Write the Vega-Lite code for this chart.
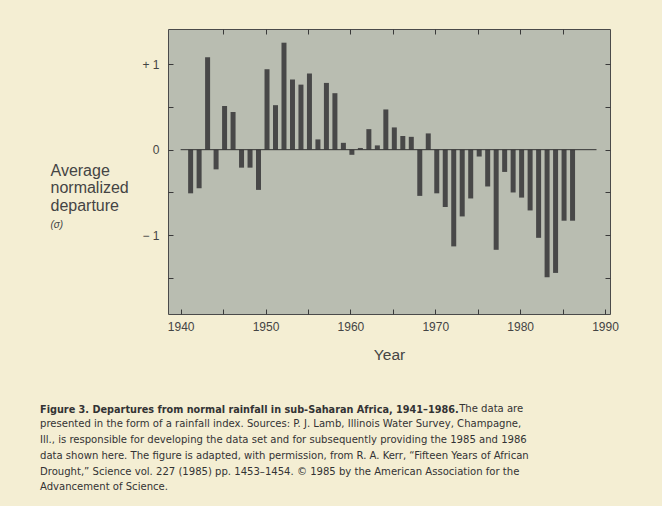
{
  "$schema": "https://vega.github.io/schema/vega-lite/v6.json",
  "width": 442,
  "height": 285,
  "padding": {"left": 40, "top": 28, "right": 44, "bottom": 14},
  "background": "#f4eed3",
  "config": {
    "view": {"fill": "#b9bdb1", "stroke": "#4a4a4a", "strokeWidth": 1},
    "axis": {
      "domain": false,
      "grid": false,
      "tickColor": "#3a3a3a",
      "tickSize": -5,
      "tickWidth": 1,
      "labelFont": "Liberation Sans",
      "labelFontSize": 12,
      "labelColor": "#444444",
      "titleFont": "Liberation Sans",
      "titleColor": "#444444",
      "titleFontWeight": "normal"
    }
  },
  "data": {
    "values": [
      {"year": 1941, "departure": -0.51},
      {"year": 1942, "departure": -0.45},
      {"year": 1943, "departure": 1.08},
      {"year": 1944, "departure": -0.23},
      {"year": 1945, "departure": 0.51},
      {"year": 1946, "departure": 0.44},
      {"year": 1947, "departure": -0.21},
      {"year": 1948, "departure": -0.21},
      {"year": 1949, "departure": -0.47},
      {"year": 1950, "departure": 0.94},
      {"year": 1951, "departure": 0.52},
      {"year": 1952, "departure": 1.25},
      {"year": 1953, "departure": 0.82},
      {"year": 1954, "departure": 0.76},
      {"year": 1955, "departure": 0.89},
      {"year": 1956, "departure": 0.12},
      {"year": 1957, "departure": 0.78},
      {"year": 1958, "departure": 0.66},
      {"year": 1959, "departure": 0.08},
      {"year": 1960, "departure": -0.06},
      {"year": 1961, "departure": 0.02},
      {"year": 1962, "departure": 0.24},
      {"year": 1963, "departure": 0.05},
      {"year": 1964, "departure": 0.47},
      {"year": 1965, "departure": 0.26},
      {"year": 1966, "departure": 0.16},
      {"year": 1967, "departure": 0.15},
      {"year": 1968, "departure": -0.54},
      {"year": 1969, "departure": 0.19},
      {"year": 1970, "departure": -0.51},
      {"year": 1971, "departure": -0.67},
      {"year": 1972, "departure": -1.13},
      {"year": 1973, "departure": -0.78},
      {"year": 1974, "departure": -0.57},
      {"year": 1975, "departure": -0.08},
      {"year": 1976, "departure": -0.43},
      {"year": 1977, "departure": -1.17},
      {"year": 1978, "departure": -0.26},
      {"year": 1979, "departure": -0.5},
      {"year": 1980, "departure": -0.56},
      {"year": 1981, "departure": -0.71},
      {"year": 1982, "departure": -1.03},
      {"year": 1983, "departure": -1.49},
      {"year": 1984, "departure": -1.44},
      {"year": 1985, "departure": -0.83},
      {"year": 1986, "departure": -0.83}
    ]
  },
  "layer": [
    {
      "mark": {"type": "bar", "width": 5, "color": "#484848", "xOffset": 1.5},
      "encoding": {
        "x": {
          "field": "year",
          "type": "quantitative",
          "scale": {"domain": [1939.1, 1990], "nice": false, "zero": false},
          "axis": {
            "orient": "bottom",
            "values": [1940, 1945, 1950, 1955, 1960, 1965, 1970, 1975, 1980, 1985, 1990],
            "format": "d",
            "labelExpr": "datum.value % 10 == 0 ? datum.label : ''",
            "labelPadding": 12,
            "labelFlush": false,
            "labelOverlap": false,
            "title": "Year",
            "titleFontSize": 15.5,
            "titleBaseline": "alphabetic",
            "titleY": 45
          }
        },
        "y": {
          "field": "departure",
          "type": "quantitative",
          "scale": {"domain": [-1.92, 1.41], "nice": false},
          "axis": {
            "orient": "left",
            "values": [-1.5, -1, -0.5, 0, 0.5, 1],
            "labelExpr": "datum.value == 1 ? '+ 1' : datum.value == 0 ? '0' : datum.value == -1 ? '− 1' : ''",
            "labelPadding": 14,
            "labelOverlap": false,
            "title": ["Average", "normalized", "departure"],
            "titleFontSize": 16,
            "titleAngle": 0,
            "titleAlign": "left",
            "titleBaseline": "top",
            "titleLineHeight": 17.5,
            "titleX": -118,
            "titleY": 133
          }
        }
      }
    },
    {
      "data": {"values": [{}]},
      "mark": {"type": "rule", "color": "#333333", "strokeWidth": 1},
      "encoding": {
        "x": {
          "datum": 1940,
          "type": "quantitative",
          "axis": {
            "orient": "top",
            "values": [1945, 1950, 1955, 1960, 1965, 1970, 1975, 1980, 1985],
            "labels": false,
            "title": null
          }
        },
        "x2": {"datum": 1989},
        "y": {
          "datum": 0,
          "type": "quantitative",
          "axis": {
            "orient": "right",
            "values": [-1.5, -1, -0.5, 0, 0.5, 1],
            "labels": false,
            "title": "(σ)",
            "titleFontSize": 10,
            "titleFontStyle": "italic",
            "titleAngle": 0,
            "titleAlign": "left",
            "titleBaseline": "top",
            "titleX": -560,
            "titleY": 190
          }
        }
      }
    }
  ],
  "resolve": {"axis": {"x": "independent", "y": "independent"}},
  "title": {
    "text": "Figure 3. Departures from normal rainfall in sub-Saharan Africa, 1941–1986.",
    "subtitle": [
      "\u200b\u2003\u2003\u2003\u2003\u2003\u2003\u2003\u2003\u2003\u2003\u2003\u2003\u2003\u2003\u2003\u2003\u2003\u2003\u2003\u2003\u2003\u2003\u2003\u2003\u2003\u2003\u2003\u2003\u2003\u2003\u2003\u2003\u2003\u2003\u2003\u2003\u2003\u2003\u2003\u2003\u2003\u00a0\u00a0The data are",
      "presented in the form of a rainfall index. Sources: P. J. Lamb, Illinois Water Survey, Champagne,",
      "Ill., is responsible for developing the data set and for subsequently providing the 1985 and 1986",
      "data shown here. The figure is adapted, with permission, from R. A. Kerr, “Fifteen Years of African",
      "Drought,” Science vol. 227 (1985) pp. 1453–1454. © 1985 by the American Association for the",
      "Advancement of Science."
    ],
    "orient": "bottom",
    "anchor": "start",
    "frame": "group",
    "dx": -128,
    "offset": 41,
    "font": "DejaVu Sans Condensed",
    "fontSize": 10.8,
    "fontWeight": "bold",
    "color": "#333333",
    "lineHeight": 15.7,
    "subtitleFont": "DejaVu Sans Condensed",
    "subtitleFontSize": 11.2,
    "subtitleColor": "#333333",
    "subtitleLineHeight": 15.7,
    "subtitlePadding": -11.5
  }
}
